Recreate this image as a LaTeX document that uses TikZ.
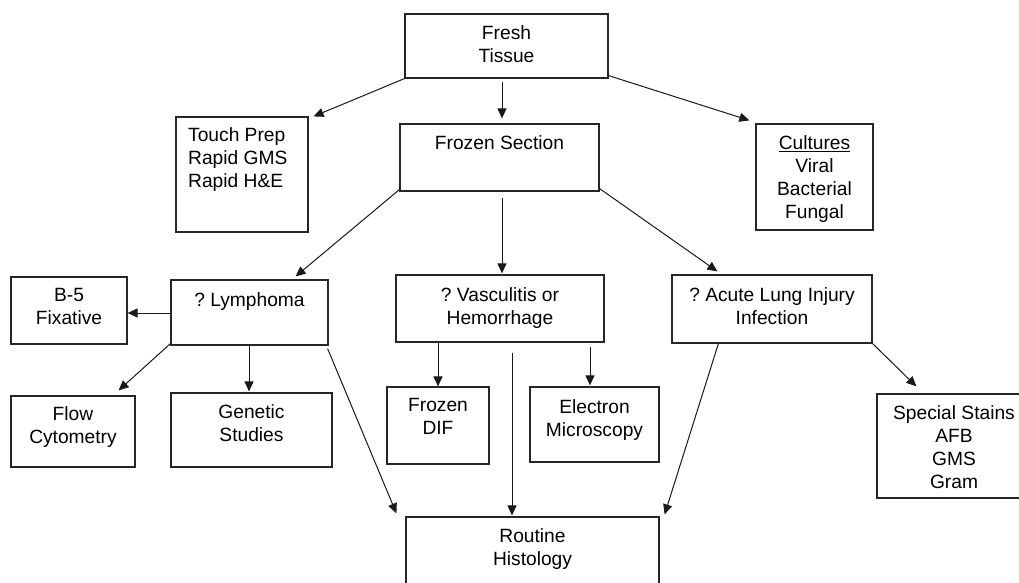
\documentclass[tikz,border=0pt]{standalone}
\usepackage{fontspec}
\setmainfont{Liberation Sans}
\usetikzlibrary{calc,arrows.meta}
\frenchspacing
\newcommand{\mybx}[5]{\node[bx, minimum width={#4-#2}, minimum height={#5-#3}] (#1) at ({(#2+#4)/2},{(#3+#5)/2}) {};}
\tikzset{
  bx/.style={draw=black!85, line width=1.2pt, inner sep=0pt, rectangle},
  txt/.style={anchor=north, inner sep=0pt, align=center, font=\fontsize{19.2}{23}\selectfont\frenchspacing, text=black},
  arr/.style={line width=1pt, draw=black!90, -{Triangle[length=10pt,width=9pt]}}
}
\begin{document}
\begin{tikzpicture}[x=1pt,y=-1pt]
\useasboundingbox (0,0) rectangle (1019,582);
\fill[white] (0,0) rectangle (1019,582);
% boxes
\mybx{fresh}{405}{14}{608}{78}
\mybx{touch}{176}{117}{308}{232}
\mybx{frozen}{400}{124}{599}{191}
\mybx{cult}{756}{124}{873}{230}
\mybx{b5}{11}{277}{127}{344}
\mybx{lymph}{171}{280}{328}{345}
\mybx{vasc}{396}{275}{604}{342}
\mybx{acute}{672}{275}{872}{343}
\mybx{flow}{11}{396}{135}{467}
\mybx{genetic}{171}{393}{332}{467}
\mybx{fdif}{387}{387}{489}{464}
\mybx{em}{530}{387}{659}{462}
\mybx{special}{877}{394}{1031}{498}
\mybx{routine}{406}{517}{659}{600}
% texts
\node[txt] (t-fresh) at (506.5,25) {Fresh\\Tissue};
\node[txt, anchor=north west, align=left] (t-touch) at (188,127) {Touch Prep\\Rapid GMS\\Rapid H\&E};
\node[txt] (t-frozen) at (499.5,135) {Frozen Section};
\node[txt] (t-cult) at (814.5,135) {\underline{Cultures}\\Viral\\Bacterial\\Fungal};
\node[txt] (t-b5) at (69,288) {B-5\\Fixative};
\node[txt] (t-lymph) at (249.5,292) {? Lymphoma};
\node[txt] (t-vasc) at (500,287) {? Vasculitis or\\Hemorrhage};
\node[txt] (t-acute) at (772,287) {? Acute Lung Injury\\Infection};
\node[txt] (t-flow) at (73,406) {Flow\\Cytometry};
\node[txt] (t-genetic) at (251.5,404) {Genetic\\Studies};
\node[txt] (t-fdif) at (438,398) {Frozen\\DIF};
\node[txt] (t-em) at (594.5,399) {Electron\\Microscopy};
\node[txt] (t-special) at (954,405) {Special Stains\\AFB\\GMS\\Gram};
\node[txt] (t-routine) at (532.5,528) {Routine\\Histology};
% connectors
\draw[arr] (fresh.south west) -- ($(touch.north east)+(5,0)$);
\draw[arr] ($(fresh.south)+(-4.5,3)$) -- ($(frozen.north)+(2.5,-5)$);
\draw[arr] ($(fresh.south east)+(0,-3)$) -- ($(cult.north west)+(-6,-3)$);
\draw[arr] ($(frozen.south west)+(0,-2)$) -- ($(lymph.north east)+(-33,-3)$);
\draw[arr] ($(frozen.south)+(2.5,6)$) -- ($(vasc.north)+(2,-1)$);
\draw[arr] ($(frozen.south east)+(0,-3)$) -- ($(acute.north west)+(46,-3)$);
\draw[arr] ($(lymph.west)+(0,0.5)$) -- ($(b5.east |- lymph.west)+(0,0.5)$);
\draw[arr] ($(lymph.south west)+(0,-2)$) -- ($(flow.north east)+(-17,-5)$);
\draw[arr] ($(lymph.south)+(-0.5,0)$) -- ($(genetic.north -| lymph.south)+(-0.5,-1)$);
\draw[arr] ($(lymph.south east)+(-1,3)$) -- ($(routine.north west)+(-9,-3)$);
\draw[arr] (vasc.south -| fdif.north) -- (fdif.north);
\draw[arr] ($(vasc.south -| em.north)+(-4.5,4)$) -- ($(em.north)+(-4.5,-1)$);
\coordinate (vfree) at ($(vasc.south)+(12,10)$);
\draw[arr] (vfree) -- ($(routine.north)+(-20.5,-1)$);
\draw[arr] ($(acute.south west)+(47,0)$) -- ($(routine.north east)+(5,-2)$);
\draw[arr] (acute.south east) -- ($(special.north west)+(40,-7)$);
\end{tikzpicture}
\end{document}
